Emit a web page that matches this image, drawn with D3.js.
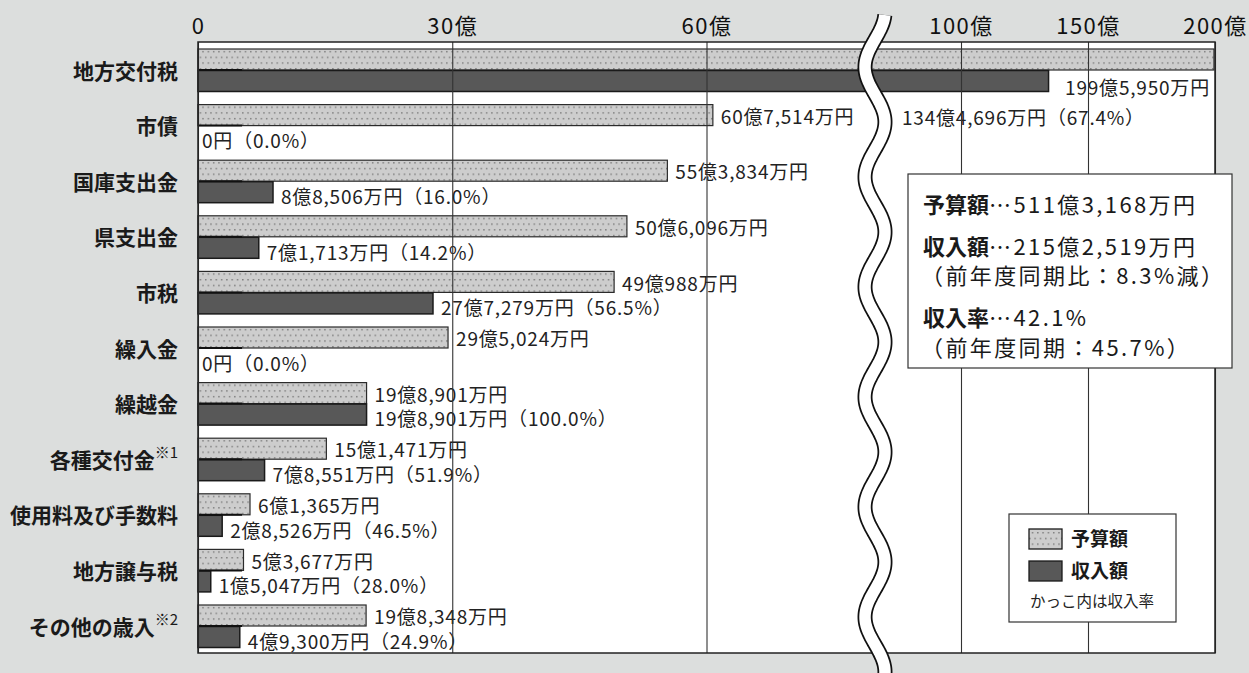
<!DOCTYPE html>
<html>
<head>
<meta charset="utf-8">
<script src="https://cdn.jsdelivr.net/npm/d3@7"></script>
<style>
  body { margin: 0; background: #dcdedd; }
  svg { display: block; font-family: "Noto Sans CJK JP", "Noto Sans", sans-serif; }
</style>
</head>
<body>
<svg width="1249" height="673"></svg>
<script>
// values in 億円
var categories = ["地方交付税", "市債", "国庫支出金", "県支出金", "市税", "繰入金", "繰越金",
                  "各種交付金※1", "使用料及び手数料", "地方譲与税", "その他の歳入※2"];
var budget  = [199.5950, 60.7514, 55.3834, 50.6096, 49.0988, 29.5024, 19.8901, 15.1471, 6.1365, 5.3677, 19.8348];
var revenue = [134.4696, 0, 8.8506, 7.1713, 27.7279, 0, 19.8901, 7.8551, 2.8526, 1.5047, 4.9300];
var budgetLabels = ["199億5,950万円", "60億7,514万円", "55億3,834万円", "50億6,096万円", "49億988万円",
                    "29億5,024万円", "19億8,901万円", "15億1,471万円", "6億1,365万円", "5億3,677万円", "19億8,348万円"];
var revenueLabels = ["134億4,696万円（67.4%）", "0円（0.0%）", "8億8,506万円（16.0%）", "7億1,713万円（14.2%）",
                     "27億7,279万円（56.5%）", "0円（0.0%）", "19億8,901万円（100.0%）", "7億8,551万円（51.9%）",
                     "2億8,526万円（46.5%）", "1億5,047万円（28.0%）", "4億9,300万円（24.9%）"];
var leftTicks = [0, 30, 60];
var rightTicks = [100, 150, 200];
var summaryHeads = ["予算額", "収入額", "", "収入率", ""];
var summaryTails = ["…511億3,168万円", "…215億2,519万円", "（前年度同期比：8.3%減）", "…42.1%", "（前年度同期：45.7%）"];
var legendKeys = ["予算額", "収入額"];

var svg = d3.select("svg");
var plot = {left: 198, right: 1215, top: 42, bottom: 653};

// broken axis: two linear pieces
var xL = d3.scaleLinear().domain([0, 80]).range([198, 876]);
var xR = d3.scaleLinear().domain([100, 200]).range([961, 1215]);
function x(v) { return v <= 80 ? xL(v) : xR(v); }

var y = d3.scaleBand().domain(categories).range([49, 648]).paddingInner(12.6 / 55.6).paddingOuter(0);
var sub = d3.scaleBand().domain(["budget", "revenue"]).range([0, y.bandwidth()]);

var defs = svg.append("defs");
var pat = defs.append("pattern")
    .attr("id", "dots")
    .attr("patternUnits", "userSpaceOnUse")
    .attr("width", 5.3).attr("height", 11.4);
pat.append("rect").attr("width", 5.3).attr("height", 11.4).attr("fill", "#cdcdcd");
pat.append("rect").attr("x", 1).attr("y", 2).attr("width", 1.3).attr("height", 1.3).attr("fill", "#6a6a6a");
pat.append("rect").attr("x", 3.65).attr("y", 7.7).attr("width", 1.3).attr("height", 1.3).attr("fill", "#6a6a6a");

svg.append("rect")
    .attr("x", plot.left).attr("y", plot.top)
    .attr("width", plot.right - plot.left).attr("height", plot.bottom - plot.top)
    .attr("fill", "#fff");

var rows = svg.append("g").attr("class", "rows")
    .selectAll("g")
    .data(categories)
    .enter()
        .append("g")
        .attr("transform", function(d) { return "translate(0," + y(d) + ")"; });

rows.append("rect")
    .attr("x", x(0))
    .attr("y", sub("budget"))
    .attr("width", function(d, i) { return x(budget[i]) - x(0); })
    .attr("height", sub.bandwidth() - 0.5)
    .attr("fill", "url(#dots)")
    .attr("stroke", "#2b2b2b")
    .attr("stroke-width", 1.2);

rows.append("rect")
    .attr("x", x(0))
    .attr("y", sub("revenue"))
    .attr("width", function(d, i) { return x(revenue[i]) - x(0); })
    .attr("height", sub.bandwidth() - 0.5)
    .attr("fill", "#585858")
    .attr("stroke", "#1a1a1a")
    .attr("stroke-width", 1.5);

// short dark tick at the top of each revenue bar
rows.append("line")
    .attr("x1", x(0)).attr("x2", x(5.2))
    .attr("y1", sub("revenue") - 0.5).attr("y2", sub("revenue") - 0.5)
    .attr("stroke", "#111").attr("stroke-width", 2);

// gridlines
[[xL, leftTicks], [xR, rightTicks]].forEach(function(p) {
    var g = svg.append("g")
        .attr("class", "grid")
        .attr("transform", "translate(0," + plot.bottom + ")")
        .call(d3.axisBottom(p[0]).tickValues(p[1]).tickSize(-(plot.bottom - plot.top)).tickFormat(""));
    g.select(".domain").remove();
    g.selectAll("line").attr("stroke", "#333").attr("stroke-width", 1.1);
});

svg.append("rect")
    .attr("x", plot.left).attr("y", plot.top)
    .attr("width", plot.right - plot.left).attr("height", plot.bottom - plot.top)
    .attr("fill", "none")
    .attr("stroke", "#222")
    .attr("stroke-width", 1.5);

// value labels
function halo(sel) {
    return sel.attr("fill", "#222")
        .attr("stroke", "#fff").attr("stroke-width", 3)
        .attr("paint-order", "stroke")
        .attr("font-size", 19)
        .attr("letter-spacing", 0.8)
        .attr("dominant-baseline", "central");
}

rows.append("text")
    .call(halo)
    .attr("x", function(d, i) { return i === 0 ? x(budget[i]) - 4 : x(budget[i]) + 8; })
    .attr("y", function(d, i) { return i === 0 ? sub("revenue") + sub.bandwidth() / 2 + 5 : sub("budget") + sub.bandwidth() / 2; })
    .attr("text-anchor", function(d, i) { return i === 0 ? "end" : "start"; })
    .text(function(d, i) { return budgetLabels[i]; });

rows.append("text")
    .call(halo)
    .attr("x", function(d, i) {
        if (i === 0) return xR(100) - 59;
        return revenue[i] === 0 ? x(0) + 4 : x(revenue[i]) + 8;
    })
    .attr("y", function(d, i) {
        return i === 0 ? y.step() + sub("budget") + sub.bandwidth() / 2 + 1 : sub("revenue") + sub.bandwidth() / 2 + 3;
    })
    .text(function(d, i) { return revenueLabels[i]; });

// category labels
rows.append("text")
    .attr("x", 178)
    .attr("y", y.bandwidth() / 2 - 1)
    .attr("text-anchor", "end")
    .attr("dominant-baseline", "central")
    .attr("font-size", 21)
    .attr("font-weight", "bold")
    .attr("fill", "#1a1a1a")
    .each(function(d) {
        var t = d3.select(this);
        var m = d.match(/^(.*?)(※\d)?$/);
        t.append("tspan").text(m[1]);
        if (m[2]) {
            t.append("tspan")
                .attr("font-size", 15)
                .attr("font-weight", "normal")
                .attr("dy", -8)
                .text(m[2]);
        }
    });

// axis labels
[[xL, leftTicks], [xR, rightTicks]].forEach(function(p) {
    var g = svg.append("g")
        .attr("class", "axis")
        .attr("transform", "translate(0," + plot.top + ")")
        .call(d3.axisTop(p[0]).tickValues(p[1]).tickSize(0).tickPadding(8)
            .tickFormat(function(d) { return d === 0 ? "0" : d + "億"; }));
    g.select(".domain").remove();
    g.selectAll("text")
        .attr("font-family", "\"Noto Sans CJK JP\", sans-serif")
        .attr("font-size", 22)
        .attr("letter-spacing", 1.5)
        .attr("fill", "#111");
});

// axis break wave
var waveYs = d3.range(15, 676, 2);
var wave = d3.line()
    .x(function(v) { return 875 + 10 * Math.cos(2 * Math.PI * (v - 12) / 110); })
    .y(function(v) { return v; })
    .curve(d3.curveBasis);
svg.append("path").attr("d", wave(waveYs)).attr("fill", "none").attr("stroke", "#111").attr("stroke-width", 15);
svg.append("path").attr("d", wave(waveYs)).attr("fill", "none").attr("stroke", "#fff").attr("stroke-width", 11.5);

// summary box
var box = svg.append("g").attr("class", "summary");
box.append("rect")
    .attr("x", 908).attr("y", 174).attr("width", 324).attr("height", 194)
    .attr("fill", "#fff").attr("stroke", "#333").attr("stroke-width", 1.2);
var lineY = [213, 255, 284, 326, 356];
summaryTails.forEach(function(t, i) {
    var txt = box.append("text")
        .attr("x", i === 2 || i === 4 ? 921 : 923)
        .attr("y", lineY[i])
        .attr("font-size", 22)
        .attr("letter-spacing", 2.4)
        .attr("fill", "#1a1a1a");
    if (summaryHeads[i]) txt.append("tspan").attr("font-weight", "bold").attr("letter-spacing", 0).text(summaryHeads[i]);
    txt.append("tspan").text(t);
});

// legend
var leg = svg.append("g").attr("class", "legend");
leg.append("rect")
    .attr("x", 1009).attr("y", 514).attr("width", 167).attr("height", 108)
    .attr("fill", "#fff").attr("stroke", "#333").attr("stroke-width", 1.2);
legendKeys.forEach(function(k, i) {
    leg.append("rect")
        .attr("x", 1029).attr("y", 529 + i * 32).attr("width", 33).attr("height", 20)
        .attr("fill", i === 0 ? "url(#dots)" : "#585858")
        .attr("stroke", "#1a1a1a").attr("stroke-width", 1.3);
    leg.append("text")
        .attr("x", 1071).attr("y", 546 + i * 32)
        .attr("font-size", 19).attr("font-weight", "bold").attr("fill", "#1a1a1a")
        .text(k);
});
leg.append("text")
    .attr("x", 1030).attr("y", 607)
    .attr("font-size", 15.5).attr("fill", "#222")
    .text("かっこ内は収入率");
</script>
</body>
</html>
